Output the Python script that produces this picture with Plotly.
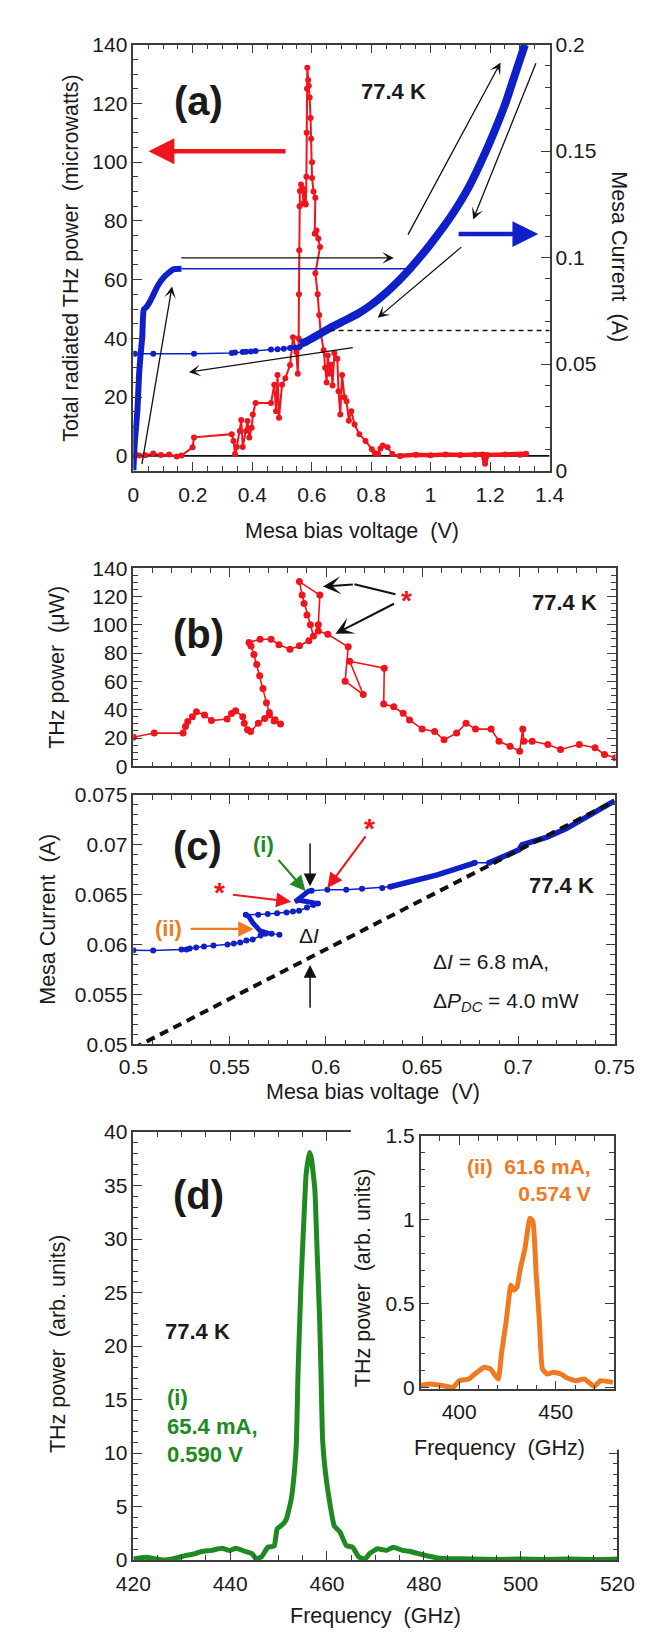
import plotly.graph_objects as go

FONT = "Liberation Sans, Arial, Helvetica, sans-serif"
W, H = 652, 1634

RED = "#f0141c"
BLUE = "#1020c8"
GREEN = "#1f8a22"
ORANGE = "#f07a22"
AX = "#3c3c3c"
TXT = "#1a1a1a"

# ---------------- panel (a) data ----------------
red_a_v = [0, 0.01, 0.02, 0.04, 0.067, 0.093, 0.12, 0.146, 0.162, 0.199, 0.204, 0.331, 0.337, 0.342,
           0.348, 0.358, 0.363, 0.368, 0.379, 0.384, 0.39, 0.398, 0.402, 0.411, 0.463, 0.474, 0.48,
           0.485, 0.49, 0.5, 0.511, 0.527, 0.537, 0.548, 0.553, 0.556, 0.557, 0.558, 0.559, 0.56,
           0.564, 0.569, 0.572, 0.575, 0.578, 0.58, 0.582, 0.583, 0.584, 0.585, 0.588, 0.59, 0.593,
           0.596, 0.598, 0.601, 0.601, 0.606, 0.612, 0.61, 0.616, 0.622, 0.628, 0.612, 0.62, 0.625,
           0.63, 0.64, 0.645, 0.65, 0.654, 0.66, 0.665, 0.67, 0.676, 0.686, 0.69, 0.696, 0.702, 0.71,
           0.717, 0.725, 0.733, 0.744, 0.76, 0.781, 0.802, 0.812, 0.823, 0.831, 0.839, 0.855, 0.871,
           0.897]
red_a_p = [0, 0.3, 0.1, 0.2, 0.8, 0.3, 0.5, -0.2, 0.1, 2.9, 6.3, 7.4, 5.1, 0.6,
           3.0, 8.5, 12.2, 3.0, 8.5, 11.9, 6.3, 9.6, 14.1, 18.0, 18.0, 24.2, 15.2,
           27.5, 13.0, 24.2, 26.4, 30.9, 40.4, 35.4, 28.0, 40.0, 55.0, 70.0, 85.0, 90.2,
           92.4, 91.0, 86.0, 90.2, 86.0, 85.6, 95.0, 110.0, 125.0, 132.1, 128.0, 126.0, 122.0,
           115.0, 108.0, 100.0, 94.6, 90.0, 87.9, 75.6, 76.7, 74.0, 71.1, 62.2, 55.0, 48.0,
           42.0, 36.0, 30.0, 25.0, 34.2, 28.0, 31.0, 24.0, 35.0, 33.1, 22.0, 14.1, 27.5, 20.0,
           18.6, 12.0, 15.2, 10.7, 7.4, 5.1, 2.3, 1.0, 0.6, 2.5, 3.5, 2.9, 0.6,
           0.0]
red_tail_v = [0.897, 0.95, 1.0, 1.05, 1.1, 1.15, 1.175, 1.183, 1.19, 1.25, 1.3, 1.321]
red_tail_p = [0.0, 0.4, 0.2, 0.5, 0.3, 0.4, 0.5, -2.7, 0.3, 0.5, 0.4, 0.7]

blue_rise_v = [0, 0.005, 0.014, 0.019, 0.024, 0.03, 0.035, 0.045, 0.056, 0.067, 0.083, 0.104, 0.12, 0.136, 0.162]
blue_rise_i = [0, 0.0136, 0.029, 0.0446, 0.0539, 0.063, 0.0755, 0.077, 0.0794, 0.0825, 0.087, 0.091, 0.093, 0.0946, 0.0948]

blue_jump_v = [0.162, 0.93]
blue_jump_i = [0.0948, 0.0948]

blue_curve_v = [0.56, 0.58, 0.6, 0.625, 0.654, 0.7, 0.759, 0.8, 0.85, 0.9, 0.93, 0.97, 1.0, 1.04,
                1.076, 1.13, 1.184, 1.22, 1.25, 1.28, 1.317]
blue_curve_i = [0.0595, 0.0605, 0.062, 0.064, 0.0664, 0.0697, 0.074, 0.0778, 0.0835, 0.0902, 0.0947,
                0.1012, 0.1064, 0.1138, 0.121, 0.1336, 0.1494, 0.1612, 0.1719, 0.1845, 0.2]

blue_ret_v = [0.575, 0.559, 0.543, 0.527, 0.506, 0.485, 0.463, 0.411, 0.395, 0.379, 0.368, 0.342,
              0.331, 0.204, 0.067, 0.005]
blue_ret_i = [0.0598, 0.058, 0.0578, 0.0575, 0.0572, 0.057, 0.0568, 0.0562, 0.0559, 0.0558, 0.0557,
              0.0555, 0.0552, 0.0549, 0.0549, 0.0549]

zero_a_v = [0, 1.4]
zero_a_p = [0, 0]
dash_a_v = [0.66, 1.4]
dash_a_i = [0.0658, 0.0658]

# ---------------- panel (b) data ----------------
red_b_v = [0.5, 0.5108, 0.5258, 0.527, 0.5282, 0.5306, 0.5327, 0.5369, 0.5405, 0.5486, 0.5509, 0.553,
           0.5567, 0.5575, 0.5592, 0.5608, 0.5648, 0.5681, 0.5705, 0.5735, 0.5763, 0.573, 0.5705,
           0.569, 0.5672, 0.5655, 0.564, 0.5625, 0.561, 0.56, 0.5657, 0.5714, 0.5755, 0.5812, 0.5861,
           0.591, 0.5934, 0.5918, 0.59, 0.5885, 0.5875, 0.5861, 0.5967, 0.5959, 0.5959, 0.6008,
           0.6114, 0.6098, 0.6192, 0.6122, 0.6301, 0.6298, 0.635, 0.6399, 0.6432, 0.6497, 0.6562,
           0.6611, 0.6676, 0.6725, 0.6774, 0.6855, 0.6896, 0.6953, 0.7003, 0.7019, 0.7025, 0.7068,
           0.7149, 0.7215, 0.7312, 0.7394, 0.7443, 0.75]
red_b_p = [20.5, 23.5, 23.5, 28.1, 31.6, 35.1, 38.6, 36.3, 32.3, 33.5, 37.4, 39.3,
           35.1, 30.4, 25.8, 24.6, 30.4, 33.8, 36.3, 33.0, 30.0, 32.0, 38.0,
           45.0, 55.0, 64.0, 72.0, 79.0, 85.0, 87.5, 89.8, 89.8, 85.9, 82.8, 85.2,
           88.7, 92.1, 100.0, 107.0, 115.0, 121.0, 130.5, 121.0, 100.0, 95.6, 93.3,
           84.4, 60.2, 50.7, 74.2, 69.3, 44.0, 42.1, 37.5, 32.8, 26.3, 24.6,
           18.8, 23.5, 30.5, 26.3, 26.3, 17.7, 14.2, 10.7, 26.3, 17.7, 17.7,
           15.4, 11.9, 15.4, 13.1, 8.4, 6.1]

# ---------------- panel (c) data ----------------
c_low_v = [0.5, 0.5103, 0.525, 0.5276, 0.5293, 0.5326, 0.5367, 0.5416, 0.5489, 0.5522, 0.5555,
           0.5587, 0.562, 0.5661, 0.5685, 0.5718, 0.5759]
c_low_i = [0.05944, 0.0594, 0.0595, 0.05952, 0.0596, 0.0597, 0.0598, 0.0599, 0.06, 0.0601, 0.0602,
           0.0604, 0.0605, 0.0609, 0.0611, 0.0611, 0.061]
c_jump_v = [0.5705, 0.5657, 0.562, 0.56, 0.5584]
c_jump_i = [0.0611, 0.0614, 0.0622, 0.0628, 0.063]
c_top_v = [0.5584, 0.5649, 0.5698, 0.5747, 0.5796, 0.5829, 0.5861, 0.5902, 0.5935, 0.5959]
c_top_i = [0.063, 0.063, 0.06306, 0.06313, 0.06323, 0.06333, 0.0634, 0.06372, 0.06398, 0.06411]
c_hook_v = [0.5959, 0.59, 0.5861, 0.5840, 0.5877, 0.591, 0.5926]
c_hook_i = [0.06411, 0.0643, 0.06445, 0.0643, 0.06486, 0.06536, 0.0654]
c_mid_v = [0.5926, 0.6008, 0.6106, 0.6188, 0.6293, 0.6334]
c_mid_i = [0.0654, 0.06551, 0.0655, 0.0656, 0.06568, 0.0658]
c_rise1_v = [0.6334, 0.6415, 0.6497, 0.6579, 0.666, 0.6742, 0.6774]
c_rise1_i = [0.0658, 0.06617, 0.06649, 0.06699, 0.06748, 0.06798, 0.0682]
c_gap_v = [0.6774, 0.6848]
c_gap_i = [0.0682, 0.0682]
c_rise2_v = [0.6848, 0.6921, 0.7003, 0.7019, 0.7149, 0.7247, 0.75]
c_rise2_i = [0.0682, 0.0688, 0.0695, 0.07, 0.07078, 0.0716, 0.0744]
dash_c_v = [0.5, 0.75]
dash_c_i = [0.0496, 0.0744]

# ---------------- panel (d) data ----------------
green_f = [420, 422.5, 426.4, 428.9, 430.9, 432.8, 434.1, 436.1, 438.3, 439.9, 441.2, 443.1, 444.5,
           445.4, 446.5, 447.8, 449.1, 449.7, 451.0, 451.6, 452.6, 453.3, 453.7, 454.0, 454.6, 455.2,
           455.7, 456.4, 456.8, 457.5, 458.0, 458.5, 458.8, 459.1, 459.7, 460.7, 461.5, 462.7, 464.0,
           465.3, 466.6, 467.9, 468.8, 470.4, 472.3, 473.7, 475.6, 477.2, 478.9, 480.8, 482.8, 486.0,
           490, 495, 500, 505, 510, 515, 520]
green_p = [0.1, 0.25, 0.0, 0.2, 0.43, 0.6, 0.8, 0.9, 1.1, 0.9, 1.1, 0.8, 0.6,
           0.1, 0.3, 1.2, 1.3, 2.9, 3.4, 3.8, 5.65, 8.4, 11.2, 17.2, 25.4, 31.5,
           36.1, 38.1, 37.5, 34.6, 28.4, 22.3, 16.8, 11.2, 8.1, 5.0, 3.2, 2.6, 1.35,
           1.2, 0.28, 0.1, 0.6, 1.05, 0.9, 1.2, 0.9, 0.8, 0.6, 0.37, 0.2, 0.12,
           0.1, 0.05, 0.1, 0.05, 0.1, 0.05, 0.1]

orange_f = [380, 385.4, 391.9, 396.8, 400, 404.9, 408.1, 413, 416.2, 418.7, 420.3, 422, 424.4,
            426.8, 428.4, 430, 431.7, 434.1, 436.6, 438.2, 439.8, 441.5, 443.1, 445.5, 448.8,
            452.8, 455.3, 460.1, 465, 469.9, 473.2, 479.7]
orange_p = [0.013, 0.02, 0.01, 0.0, 0.04, 0.05, 0.08, 0.12, 0.11, 0.07, 0.05, 0.21, 0.40,
            0.61, 0.58, 0.6, 0.71, 0.83, 1.01, 0.99, 0.69, 0.40, 0.11, 0.08, 0.09,
            0.08, 0.06, 0.04, 0.05, 0.006, 0.04, 0.03]

# ---------------- tick values ----------------
ticks_a_x = [0, 0.2, 0.4, 0.6, 0.8, 1.0, 1.2, 1.4]
ticks_a_y = [0, 20, 40, 60, 80, 100, 120, 140]
ticks_a_y2 = [0, 0.05, 0.1, 0.15, 0.2]
ticks_bc_x = [0.5, 0.55, 0.6, 0.65, 0.7, 0.75]
ticks_b_y = [0, 20, 40, 60, 80, 100, 120, 140]
ticks_c_y = [0.05, 0.055, 0.06, 0.065, 0.07, 0.075]
ticks_d_x = [420, 440, 460, 480, 500, 520]
ticks_d_y = [0, 5, 10, 15, 20, 25, 30, 35, 40]
ticks_in_x = [400, 450]
ticks_in_y = [0, 0.5, 1, 1.5]


def dom_x(p0, p1):
    return [p0 / W, p1 / W]


def dom_y(top, bottom):
    return [1 - bottom / H, 1 - top / H]


def axis(rng, tickvals, minor, **kw):
    d = dict(range=rng, tickvals=tickvals, showline=True, linecolor=AX, linewidth=1.5,
             ticks="inside", ticklen=9, tickwidth=1.4, tickcolor=AX, showgrid=False,
             zeroline=False, tickfont=dict(family=FONT, size=21, color=TXT), fixedrange=True,
             minor=dict(dtick=minor, tick0=0, ticks="inside", ticklen=5, tickwidth=1.2,
                        tickcolor=AX, showgrid=False))
    d.update(kw)
    return d


fig = go.Figure()


def add(x, y, xa, ya, color, width, markers=0, dash=None, spline=None):
    mode = "lines+markers" if markers else "lines"
    line = dict(color=color, width=width, dash=dash)
    if spline:
        line.update(shape="spline", smoothing=spline)
    tr = go.Scatter(x=x, y=y, xaxis=xa, yaxis=ya, mode=mode, line=line,
                    hoverinfo="skip", showlegend=False)
    if markers:
        tr.marker = dict(color=color, size=markers, line=dict(width=0))
    fig.add_trace(tr)


# (a)
add(zero_a_v, zero_a_p, "x", "y", "#111", 1.6)
add(red_a_v, red_a_p, "x", "y", RED, 2, markers=6)
add(red_tail_v, red_tail_p, "x", "y", RED, 4.5, markers=6)
add(blue_ret_v, blue_ret_i, "x", "y2", BLUE, 1.5, markers=6)
add(blue_rise_v, blue_rise_i, "x", "y2", BLUE, 6, spline=0.5)
add(blue_jump_v, blue_jump_i, "x", "y2", BLUE, 1.6)
add(blue_curve_v, blue_curve_i, "x", "y2", BLUE, 8, spline=0.8)
add(dash_a_v, dash_a_i, "x", "y2", "#111", 1.5, dash="5px,4px")
# (b)
add(red_b_v, red_b_p, "x2", "y3", RED, 1.6, markers=7)
# (c)
add(c_low_v, c_low_i, "x3", "y4", BLUE, 1.5, markers=6)
add(c_jump_v, c_jump_i, "x3", "y4", BLUE, 5)
add(c_top_v, c_top_i, "x3", "y4", BLUE, 1.5, markers=6)
add(c_hook_v, c_hook_i, "x3", "y4", BLUE, 5)
add(c_mid_v, c_mid_i, "x3", "y4", BLUE, 1.5, markers=6)
add(c_rise1_v, c_rise1_i, "x3", "y4", BLUE, 5.5)
add(c_gap_v, c_gap_i, "x3", "y4", BLUE, 1.5, markers=6)
add(c_rise2_v, c_rise2_i, "x3", "y4", BLUE, 5.5)
add(dash_c_v, dash_c_i, "x3", "y4", "#111", 4, dash="9px,6px")
# (d)
add(green_f, green_p, "x4", "y5", GREEN, 5, spline=0.4)
# white cover behind the inset (empty subplot, registers before the inset)
fig.add_trace(go.Scatter(x=[None], y=[None], xaxis="x5", yaxis="y6", mode="lines",
                         hoverinfo="skip", showlegend=False))
# inset
add(orange_f, orange_p, "x6", "y7", ORANGE, 5, spline=0.4)

hidden = dict(showline=False, showticklabels=False, ticks="", showgrid=False, zeroline=False,
              range=[0, 1], fixedrange=True)

fig.update_layout(
    width=W, height=H, margin=dict(l=0, r=0, t=0, b=0),
    paper_bgcolor="white", plot_bgcolor="white", showlegend=False,
    font=dict(family=FONT, color=TXT),
    xaxis=axis([0, 1.4], ticks_a_x, 0.05, domain=dom_x(114, 556), anchor="y", mirror="ticks",
               ticklabelstandoff=4),
    yaxis=axis([-5, 140], ticks_a_y, 5, domain=dom_y(25, 457), anchor="x"),
    yaxis2=axis([0, 0.2], ticks_a_y2, 0.01, overlaying="y", side="right", anchor="x"),
    xaxis2=axis([0.5, 0.75], ticks_bc_x, 0.01, domain=dom_x(114, 626), anchor="y3",
                mirror="ticks", showticklabels=False),
    yaxis3=axis([0, 140], ticks_b_y, 5, domain=dom_y(556, 757), anchor="x2", mirror="ticks"),
    xaxis3=axis([0.5, 0.75], ticks_bc_x, 0.01, domain=dom_x(114, 625), anchor="y4", mirror="ticks",
                ticklabelstandoff=3),
    yaxis4=axis([0.05, 0.075], ticks_c_y, 0.001, domain=dom_y(786, 1039), anchor="x3", mirror="ticks"),
    xaxis4=axis([420, 520], ticks_d_x, 5, domain=dom_x(114, 628), anchor="y5", mirror="ticks",
                ticklabelstandoff=4),
    yaxis5=axis([0, 40], ticks_d_y, 1, domain=dom_y(1128, 1562), anchor="x4", mirror="ticks"),
    xaxis5=dict(domain=dom_x(345, 652), anchor="y6", **hidden),
    yaxis6=dict(domain=dom_y(1120, 1450), anchor="x5", **hidden),
    xaxis6=axis([380, 480], ticks_in_x, 10, domain=dom_x(419, 624), anchor="y7", mirror="ticks",
                ticklabelstandoff=3),
    yaxis7=axis([-0.012, 1.5], ticks_in_y, 0.1, domain=dom_y(1132, 1389), anchor="x6", mirror="ticks"),
)

ann = []


def text(x, y, s, xref, yref, size=21, color=TXT, bold=False, xanchor="center", angle=0,
         align="center"):
    if bold:
        s = "<b>" + s + "</b>"
    ann.append(dict(x=x, y=y, xref=xref, yref=yref, text=s, showarrow=False, xanchor=xanchor,
                    yanchor="middle", textangle=angle, align=align,
                    font=dict(family=FONT, size=size, color=color)))


def ptext(px, py, s, size=21.5, angle=0):
    text(px / W, 1 - py / H, s, "paper", "paper", size=size, angle=angle)


def arrow(xt, yt, xh, yh, xref, yref, color="#111", width=1.3, head=3, size=1.5):
    ann.append(dict(x=xh, y=yh, ax=xt, ay=yt, xref=xref, yref=yref, axref=xref, ayref=yref,
                    text="", showarrow=True, arrowhead=head, arrowsize=size, arrowwidth=width,
                    arrowcolor=color, standoff=0))


NB = "\u00a0 "
# axis titles
ptext(47, 241, "Total radiated THz power" + NB + "(microwatts)", angle=-90)
ptext(630, 240, "Mesa Current" + NB + "(A)", angle=90)
ptext(346, 518, "Mesa bias voltage" + NB + "(V)")
ptext(33, 657, "THz power" + NB + "(\u03bcW)", angle=-90)
ptext(24, 912, "Mesa Current" + NB + "(A)", angle=-90)
ptext(369, 1087, "Mesa bias voltage" + NB + "(V)")
ptext(34, 1343, "THz power" + NB + "(arb. units)", angle=-90)
ptext(371, 1619, "Frequency" + NB + "(GHz)")
ptext(358, 1276, "THz power" + NB + "(arb. units)", angle=-90)
ptext(503, 1448, "Frequency" + NB + "(GHz)")

# panel (a)
text(0.219, 120.8, "(a)", "x", "y", size=40, bold=True)
text(0.876, 124.2, "77.4 K", "x", "y", size=22, bold=True)
arrow(0.028, -3.3, 0.13, 57.7, "x", "y")
arrow(0.156, 67.4, 0.876, 67.4, "x", "y")
arrow(0.921, 74.8, 1.235, 133.9, "x", "y")
arrow(1.356, 134.2, 1.143, 80.5, "x", "y")
arrow(1.108, 71.5, 0.822, 47.0, "x", "y")
arrow(0.743, 36.9, 0.187, 28.5, "x", "y")
arrow(0.517, 103.7, 0.051, 103.7, "x", "y", color=RED, width=4.5, head=2, size=1.15)
arrow(1.089, 75.5, 1.362, 75.5, "x", "y", color=BLUE, width=4.5, head=2, size=1.15)

# panel (b)
text(0.534, 93.2, "(b)", "x2", "y3", size=40, bold=True)
text(0.7233, 115.4, "77.4 K", "x2", "y3", size=22, bold=True)
text(0.6416, 117.5, "*", "x2", "y3", size=28, color=RED, bold=True)
fig.add_shape(type="line", x0=0.6359, y0=121.6, x1=0.6146, y1=128.6, xref="x2", yref="y3",
              line=dict(color="#111", width=2))
arrow(0.6146, 128.6, 0.5983, 127.0, "x2", "y3", width=2, size=1.5)
arrow(0.6359, 115.4, 0.6048, 93.7, "x2", "y3", width=2, size=1.5)

# panel (c)
text(0.5335, 0.0699, "(c)", "x3", "y4", size=40, bold=True)
text(0.5678, 0.0700, "(i)", "x3", "y4", size=22, color=GREEN, bold=True)
arrow(0.5747, 0.06864, 0.5894, 0.06536, "x3", "y4", color=GREEN, width=2.2, head=2, size=1.4)
arrow(0.5918, 0.07029, 0.5918, 0.06585, "x3", "y4", width=1.5, head=2, size=1.7)
text(0.6228, 0.07165, "*", "x3", "y4", size=28, color=RED, bold=True)
arrow(0.6212, 0.0710, 0.6008, 0.06568, "x3", "y4", color=RED, width=2, head=2, size=1.5)
text(0.5445, 0.0652, "*", "x3", "y4", size=28, color=RED, bold=True)
arrow(0.551, 0.06502, 0.582, 0.0643, "x3", "y4", color=RED, width=2, head=2, size=1.5)
text(0.518, 0.06157, "(ii)", "x3", "y4", size=22, color=ORANGE, bold=True)
arrow(0.529, 0.06157, 0.5625, 0.06157, "x3", "y4", color=ORANGE, width=2.2, head=2, size=1.4)
text(0.591, 0.06092, "\u0394<i>I</i>", "x3", "y4", size=21)
arrow(0.5918, 0.05352, 0.5918, 0.05796, "x3", "y4", width=1.5, head=2, size=1.7)
text(0.6546, 0.05828, "\u0394<i>I</i> = 6.8 mA,", "x3", "y4", size=21, xanchor="left")
text(0.6546, 0.05425, "\u0394<i>P</i><sub><i>DC</i></sub> = 4.0 mW", "x3", "y4", size=21, xanchor="left")
text(0.7226, 0.06593, "77.4 K", "x3", "y4", size=22, bold=True)

# panel (d)
text(433.5, 34.1, "(d)", "x4", "y5", size=40, bold=True)
text(433.2, 21.4, "77.4 K", "x4", "y5", size=22, bold=True)
text(426.6, 12.5, "(i)<br>65.4 mA,<br>0.590 V", "x4", "y5", size=22, color=GREEN, bold=True,
     xanchor="left", align="left")
ann.append(dict(x=469.3, y=1.24, xref="x6", yref="y7", text="<b>(ii)\u00a0 61.6 mA,<br>0.574 V</b>",
                showarrow=False, xanchor="right", yanchor="middle", align="right",
                font=dict(family=FONT, size=21, color=ORANGE)))

fig.update_layout(annotations=ann)
fig.write_html("out.html")
